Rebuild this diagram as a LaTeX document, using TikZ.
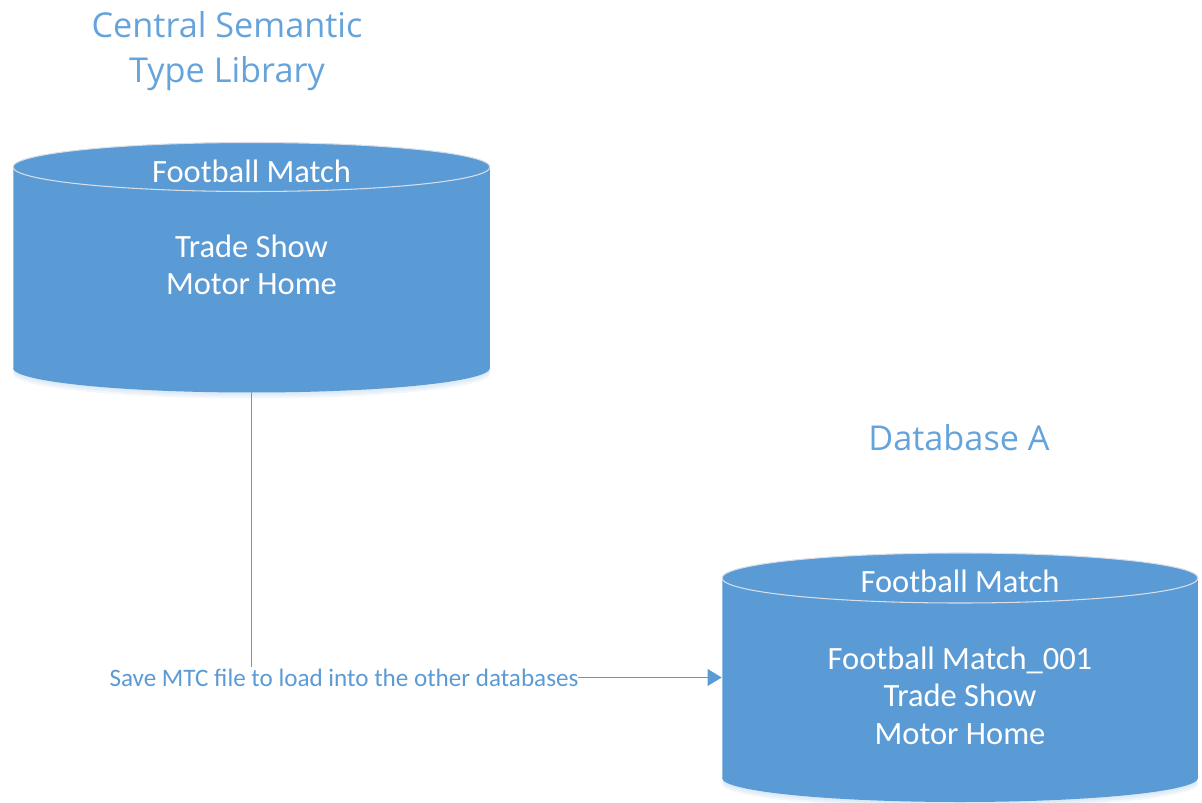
\documentclass[tikz,border=0pt]{standalone}
\usepackage{fontspec}
\setmainfont{Carlito}
\newfontfamily\titlefont{Open Sans}
\usetikzlibrary{arrows.meta}
\definecolor{dbblue}{HTML}{5B9BD5}
\definecolor{rimgrey}{HTML}{D9DEE6}
\definecolor{titleblue}{HTML}{65A3DB}
\tikzset{
  dbbody/.style={fill=dbblue},
  dbrim/.style={draw=rimgrey, line width=0.6pt},
  dbside/.style={draw=white, draw opacity=0.35, line width=0.5pt},
  dbshadow/.style={fill=dbblue!45, fill opacity=0.18},
  box/.style={inner sep=0pt, draw=none},
  dbhead/.style={text=white, font=\fontsize{18.5}{22}\selectfont},
  dbtext/.style={text=white, align=center, font=\fontsize{18.5}{21.3}\selectfont},
  titletext/.style={text=titleblue, align=center, font=\titlefont\fontsize{19.5}{25.5}\selectfont},
  conn/.style={draw=dbblue, line width=0.9pt, -{Triangle[length=8pt,width=9.5pt]}},
  lbl/.style={fill=white, text=dbblue, inner xsep=0pt, inner ysep=1.5pt, font=\fontsize{14.3}{16}\selectfont}
}
\begin{document}
\begin{tikzpicture}[x=0.02cm, y=-0.02cm]
\useasboundingbox (0,0) rectangle (1202,803);
% ---- central cylinder
\foreach \d in {2,4,6} {\fill[dbshadow] (251.5,368+\d) ellipse (238.5 and 24.5);}
\fill[dbbody] (13,167) rectangle (490,368);
\fill[dbbody] (251.5,368) ellipse (238.5 and 24.5);
\fill[dbbody] (251.5,167) ellipse (238.5 and 24.5);
\draw[dbside] (13,167) -- (13,368);
\draw[dbside] (490,167) -- (490,368);
\draw[dbrim] (251.5,167) ellipse (238.5 and 24.5);
\node[box, minimum width=9.54cm, minimum height=5cm] (central) at (251.5,268) {};
\node[dbhead] (c1) at (251.5,171) {Football Match};
\node[dbtext] (c2) at (251.5,265) {Trade Show\\Motor Home};
% ---- database A cylinder
\foreach \d in {2,4,6} {\fill[dbshadow] (960,778+\d) ellipse (238 and 24);}
\fill[dbbody] (722,578) rectangle (1198,778);
\fill[dbbody] (960,778) ellipse (238 and 24);
\fill[dbbody] (960,578) ellipse (238 and 25);
\draw[dbside] (722,578) -- (722,778);
\draw[dbside] (1198,578) -- (1198,778);
\draw[dbrim] (960,578) ellipse (238 and 25);
\node[box, minimum width=9.52cm, minimum height=4.98cm] (dba) at (960,677.5) {};
\node[dbhead] (d1) at (960,581) {Football Match};
\node[dbtext] (d2) at (960,695.5) {Football Match\_001\\Trade Show\\Motor Home};
% ---- titles
\node[titletext] (t1) at (227,51) {Central Semantic\\Type Library};
\node[titletext] (t2) at (959,438) {Database A};
% ---- connector
\draw[conn] (central.south) |- (dba.west);
\node[lbl] (save) at (344,678) {Save MTC file to load into the other databases};
\end{tikzpicture}
\end{document}
